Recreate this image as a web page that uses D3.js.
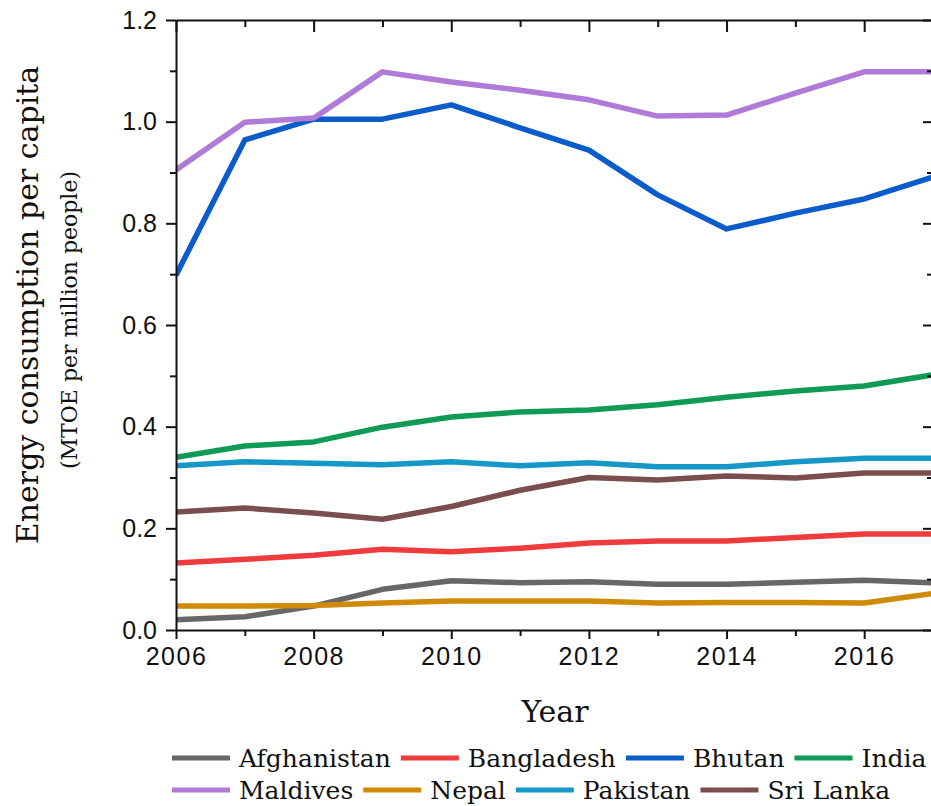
<!DOCTYPE html>
<html>
<head>
<meta charset="utf-8">
<script src="https://cdn.jsdelivr.net/npm/d3@7"></script>
<style>
  html, body { margin: 0; padding: 0; background: #fff; }
  svg { display: block; }
</style>
</head>
<body>
<svg id="chart" width="931" height="806"></svg>
<script>
// Energy consumption per capita in South Asian countries, 2006–2017
const years = [2006, 2007, 2008, 2009, 2010, 2011, 2012, 2013, 2014, 2015, 2016, 2017];

const afghanistan = [0.020, 0.026, 0.047, 0.080, 0.097, 0.093, 0.095, 0.090, 0.090, 0.094, 0.098, 0.093];
const bangladesh  = [0.132, 0.139, 0.147, 0.159, 0.154, 0.161, 0.171, 0.175, 0.175, 0.182, 0.189, 0.189];
const bhutan      = [0.698, 0.964, 1.005, 1.005, 1.033, 0.988, 0.944, 0.856, 0.789, 0.820, 0.848, 0.891];
const india       = [0.340, 0.362, 0.370, 0.399, 0.419, 0.429, 0.433, 0.443, 0.458, 0.470, 0.480, 0.502];
const maldives    = [0.905, 0.999, 1.007, 1.098, 1.078, 1.062, 1.043, 1.011, 1.013, 1.056, 1.098, 1.098];
const nepal       = [0.047, 0.047, 0.048, 0.053, 0.057, 0.057, 0.057, 0.053, 0.054, 0.054, 0.053, 0.072];
const pakistan    = [0.323, 0.331, 0.328, 0.325, 0.331, 0.323, 0.329, 0.321, 0.321, 0.331, 0.338, 0.338];
const sriLanka    = [0.232, 0.240, 0.230, 0.218, 0.243, 0.275, 0.300, 0.295, 0.303, 0.299, 0.309, 0.309];

const countries = ["Afghanistan", "Bangladesh", "Bhutan", "India", "Maldives", "Nepal", "Pakistan", "Sri Lanka"];
const seriesValues = [afghanistan, bangladesh, bhutan, india, maldives, nepal, pakistan, sriLanka];
const colors = ["#676767", "#ef3b3e", "#0b5ccb", "#0f9a55", "#b07ad8", "#cf8b06", "#1597c8", "#7b4e4e"];

const xTickValues = [2006, 2008, 2010, 2012, 2014, 2016];
const xMinorTicks = [2007, 2009, 2011, 2013, 2015, 2017];
const yTickValues = [0.0, 0.2, 0.4, 0.6, 0.8, 1.0, 1.2];
const yMinorTicks = [0.1, 0.3, 0.5, 0.7, 0.9, 1.1];

const xTitle = "Year";
const yTitle = "Energy consumption per capita";
const ySubTitle = "(MTOE per million people)";

const svg = d3.select("#chart");
const W = 931, H = 806;
const plot = { left: 176, right: 933, top: 20, bottom: 630 };

const x = d3.scaleLinear().domain([2006, 2017]).range([plot.left, plot.right]);
const y = d3.scaleLinear().domain([0, 1.2]).range([plot.bottom, plot.top]);

const sansFont = "'Liberation Sans', Arial, sans-serif";
const serifFont = "'DejaVu Serif', serif";

svg.append("rect").attr("width", W).attr("height", H).attr("fill", "#fff");

// Series lines
const line = d3.line()
  .x((d, i) => x(years[i]))
  .y(d => y(d));

svg.append("defs").append("clipPath").attr("id", "plotClip")
  .append("rect")
  .attr("x", plot.left).attr("y", plot.top - 5)
  .attr("width", plot.right - plot.left).attr("height", plot.bottom - plot.top + 5);

const linesG = svg.append("g").attr("clip-path", "url(#plotClip)");
seriesValues.forEach((vals, k) => {
  linesG.append("path")
    .datum(vals)
    .attr("fill", "none")
    .attr("stroke", colors[k])
    .attr("stroke-width", 5.5)
    .attr("stroke-linejoin", "round")
    .attr("d", line);
});

// Axes
function styleAxis(g) {
  g.selectAll(".domain").attr("stroke", "#111").attr("stroke-width", 2);
  g.selectAll(".tick line").attr("stroke", "#111").attr("stroke-width", 2);
}

// bottom
const xAxis = svg.append("g").attr("transform", `translate(0,${plot.bottom})`)
  .call(d3.axisBottom(x).tickValues(xTickValues).tickSize(9).tickSizeOuter(0).tickPadding(8).tickFormat(d3.format("d")));
styleAxis(xAxis);
xAxis.selectAll("text")
  .attr("font-family", sansFont).attr("font-size", 25).attr("fill", "#111")
  .attr("letter-spacing", "1.5px");
svg.append("g").attr("transform", `translate(0,${plot.bottom})`)
  .call(d3.axisBottom(x).tickValues(xMinorTicks).tickSize(6).tickSizeOuter(0).tickFormat(""))
  .call(g => g.select(".domain").remove())
  .call(styleAxis);

// top (ticks inside)
const xTop = svg.append("g").attr("transform", `translate(0,${plot.top})`)
  .call(d3.axisTop(x).tickValues(xTickValues).tickSize(-12).tickSizeOuter(0).tickFormat(""));
styleAxis(xTop);
svg.append("g").attr("transform", `translate(0,${plot.top})`)
  .call(d3.axisTop(x).tickValues(xMinorTicks).tickSize(-7).tickSizeOuter(0).tickFormat(""))
  .call(g => g.select(".domain").remove())
  .call(styleAxis);

// left
const yAxis = svg.append("g").attr("transform", `translate(${plot.left},0)`)
  .call(d3.axisLeft(y).tickValues(yTickValues).tickSize(10).tickSizeOuter(0).tickPadding(9).tickFormat(d3.format(".1f")));
styleAxis(yAxis);
yAxis.selectAll("text")
  .attr("font-family", sansFont).attr("font-size", 25).attr("fill", "#111");
svg.append("g").attr("transform", `translate(${plot.left},0)`)
  .call(d3.axisLeft(y).tickValues(yMinorTicks).tickSize(6).tickSizeOuter(0).tickFormat(""))
  .call(g => g.select(".domain").remove())
  .call(styleAxis);

// right (ticks inside)
const yRight = svg.append("g").attr("transform", `translate(${plot.right},0)`)
  .call(d3.axisRight(y).tickValues(yTickValues).tickSize(-10).tickSizeOuter(0).tickFormat(""));
styleAxis(yRight);
svg.append("g").attr("transform", `translate(${plot.right},0)`)
  .call(d3.axisRight(y).tickValues(yMinorTicks).tickSize(-6).tickSizeOuter(0).tickFormat(""))
  .call(g => g.select(".domain").remove())
  .call(styleAxis);

// Axis titles
svg.append("text")
  .attr("x", 555).attr("y", 722)
  .attr("text-anchor", "middle")
  .attr("font-family", serifFont).attr("font-size", 30).attr("fill", "#111")
  .text(xTitle);

svg.append("text")
  .attr("transform", "translate(38,305) rotate(-90)")
  .attr("text-anchor", "middle")
  .attr("font-family", serifFont).attr("font-size", 30).attr("fill", "#111")
  .text(yTitle);

svg.append("text")
  .attr("transform", "translate(77,320) rotate(-90)")
  .attr("text-anchor", "middle")
  .attr("font-family", serifFont).attr("font-size", 22).attr("fill", "#111")
  .text(ySubTitle);

// Legend: two rows of four
const legendRows = [[0, 1, 2, 3], [4, 5, 6, 7]];
const legendRowY = [758, 790];
const sampleLen = 58, sampleGap = 9, itemGap = 10;
legendRows.forEach((row, r) => {
  let cx = 172;
  row.forEach(k => {
    const g = svg.append("g");
    g.append("line")
      .attr("x1", cx).attr("x2", cx + sampleLen)
      .attr("y1", legendRowY[r]).attr("y2", legendRowY[r])
      .attr("stroke", colors[k]).attr("stroke-width", 5);
    const t = g.append("text")
      .attr("x", cx + sampleLen + sampleGap)
      .attr("y", legendRowY[r] + 9)
      .attr("font-family", serifFont).attr("font-size", 25).attr("fill", "#111")
      .text(countries[k]);
    cx += sampleLen + sampleGap + t.node().getComputedTextLength() + itemGap;
  });
});
</script>
</body>
</html>
